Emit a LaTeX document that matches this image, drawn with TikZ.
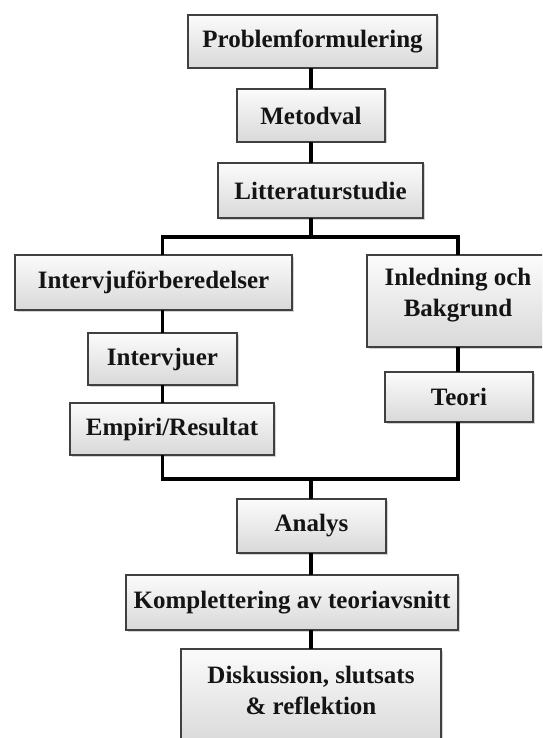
\documentclass[tikz,border=0pt]{standalone}
\usepackage{fontspec}
\setmainfont{Liberation Serif}
\usetikzlibrary{shadows}
\tikzset{
  box/.style={draw=black!75, line width=1.4pt, top color=gray!3, bottom color=gray!30,
    inner sep=0pt, outer sep=0pt, align=center, text=black!92,
    font=\fontsize{25}{30}\selectfont\bfseries,
    drop shadow={shadow xshift=1.5pt, shadow yshift=-1.5pt, opacity=0.35}},
  txt/.style={inner sep=0pt, align=center, text=black!92,
    font=\fontsize{25}{31}\selectfont\bfseries},
  conn/.style={line width=3.6pt, black}
}
\begin{document}
\begin{tikzpicture}[x=1pt,y=-1pt]
\useasboundingbox (0,0) rectangle (542,738);
\clip (0,0) rectangle (542,738);
% boxes
\node[box, minimum width=249, minimum height=53] (pf) at (312.5,41.5) {Problemformulering};
\node[box, minimum width=148, minimum height=53] (mv) at (311,115.5) {Metodval};
\node[box, minimum width=205, minimum height=55] (lit) at (320.5,190.5) {Litteraturstudie};
\node[box, minimum width=277, minimum height=55] (ifb) at (153.5,282.5) {Intervjuförberedelser};
\node[box, minimum width=182, minimum height=92] (inl) at (458,301) {};
\node[txt] (inltxt) at (458,295) {Inledning och\\Bakgrund};
\node[box, minimum width=149, minimum height=52] (iv) at (162.5,359) {Intervjuer};
\node[box, minimum width=204, minimum height=52] (emp) at (172,429) {Empiri/Resultat};
\node[box, minimum width=148, minimum height=50] (teori) at (459,397) {Teori};
\node[box, minimum width=149, minimum height=54] (an) at (311.5,526) {Analys};
\node[box, minimum width=332, minimum height=55] (kom) at (292,602.5) {Komplettering av teoriavsnitt};
\node[box, minimum width=260, minimum height=96] (dis) at (311,697) {};
\node[txt] (distxt) at (311,690) {Diskussion, slutsats\\\& reflektion};
% junction points
\coordinate (bt) at (311,237);
\coordinate (mc) at (311,479);
% connectors
\draw[conn] (pf.south -| mv) -- (mv.north);
\draw[conn] (mv.south) -- (mv.south |- lit.north);
\draw[conn] (lit.south -| bt) -- (bt);
\draw[conn] (iv |- ifb.north) |- (bt) -| (inl.north);
\draw[conn] (ifb.south -| iv) -- (iv.north);
\draw[conn] (iv.south) -- (iv.south |- emp.north);
\draw[conn] (inl.south) -- (inl.south |- teori.north);
\draw[conn] (emp.south -| iv) |- (mc) -| (teori.south -| inl);
\draw[conn] (mc) -- (an.north -| mc);
\draw[conn] (an.south -| mc) -- (kom.north -| mc);
\draw[conn] (kom.south -| dis) -- (dis.north);
\end{tikzpicture}
\end{document}
